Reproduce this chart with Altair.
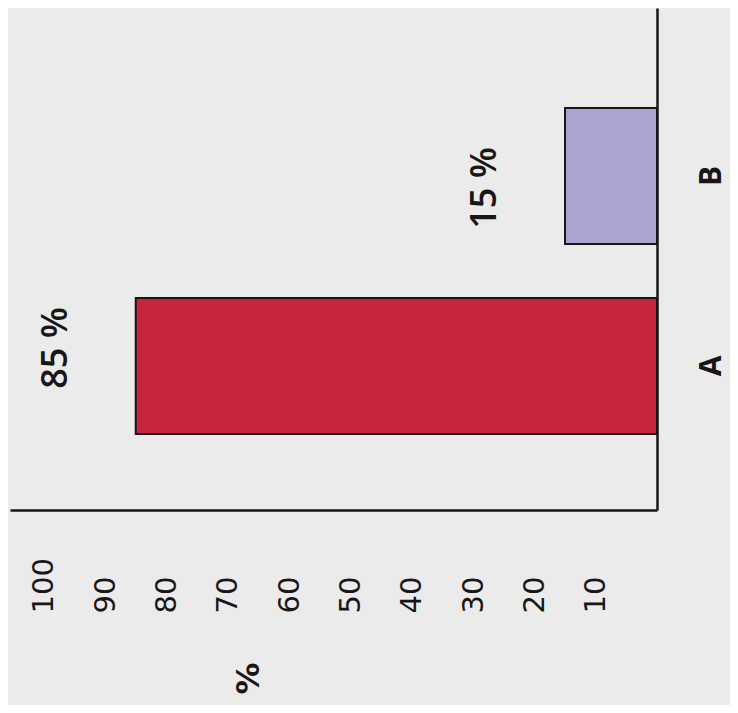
import altair as alt
import pandas as pd

categories = ["A", "B"]
values = [85, 15]
labels = ["85 %", "15 %"]
tick_values = [10, 20, 30, 40, 50, 60, 70, 80, 90, 100]
bar_colors = ["#c8253f", "#aaa5d0"]

df = pd.DataFrame({"cat": categories, "value": values, "label": labels})

ink = "#1a1617"

x_scale = alt.Scale(domain=[0, 105.5], reverse=True, nice=False, zero=True)
y_scale = alt.Scale(domain=["B", "A"], paddingInner=0.284, paddingOuter=0.463, align=0.568)

x_axis = alt.Axis(
    values=tick_values, orient="bottom", title="%", format="d",
    labelAngle=270, labelAlign="left", labelBaseline="middle", labelPadding=103,
    ticks=False, tickSize=0, grid=False,
    domainColor=ink, domainWidth=2.5,
    labelFont="DejaVu Sans", labelFontSize=29, labelColor=ink,
    titleX=238, titleY=168, titleAngle=270, titleAlign="center", titleBaseline="middle",
    titleFont="DejaVu Sans", titleFontSize=32, titleFontWeight="bold", titleColor=ink,
)
y_axis = alt.Axis(
    orient="right", title=None,
    labelAngle=270, labelAlign="center", labelBaseline="middle", labelPadding=54,
    ticks=False, tickSize=0, grid=False,
    domainColor=ink, domainWidth=2.5,
    labelFont="Open Sans", labelFontSize=30, labelFontWeight="bold", labelColor=ink,
)

base = alt.Chart(df)
bars = base.mark_bar(stroke=ink, strokeWidth=2).encode(
    x=alt.X("value:Q", scale=x_scale, axis=x_axis),
    y=alt.Y("cat:N", scale=y_scale, axis=y_axis),
    color=alt.Color("cat:N", scale=alt.Scale(domain=categories, range=bar_colors), legend=None),
)


def label_layer(cat, shift):
    return base.transform_filter(alt.datum.cat == cat).mark_text(
        angle=270, align="center", baseline="middle", dy=-80, dx=shift,
        font="Open Sans", fontSize=36, fontWeight=600, color=ink,
    ).encode(
        x=alt.X("value:Q", scale=x_scale),
        y=alt.Y("cat:N", scale=y_scale),
        text="label:N",
    )


chart = (bars + label_layer("A", 18) + label_layer("B", -12)).properties(
    width=647, height=502,
    background="#ecebeb",
    padding={"left": 2, "top": 0, "right": 73, "bottom": 195},
    autosize=alt.AutoSizeParams(type="none"),
).configure_view(stroke=None)

chart.save("out.html", embed_options={"renderer": "svg", "actions": False})
